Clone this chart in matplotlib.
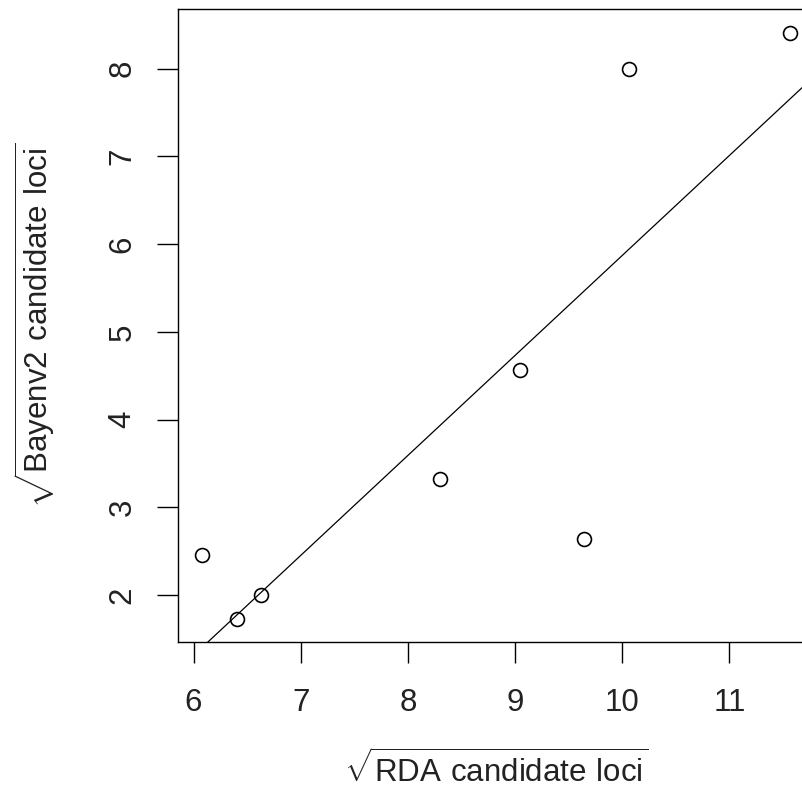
import matplotlib
matplotlib.use("Agg")
import matplotlib.pyplot as plt

# square-root transformed counts of candidate loci per group
rda_sqrt = [6.08, 6.41, 6.63, 8.30, 9.05, 9.64, 10.06, 11.57]
bayenv_sqrt = [2.45, 1.73, 2.00, 3.32, 4.57, 2.64, 8.00, 8.41]

# fitted line (intercept, slope)
fit_intercept = -5.53
fit_slope = 1.14

x_ticks = [6, 7, 8, 9, 10, 11]
y_ticks = [2, 3, 4, 5, 6, 7, 8]

plt.rcParams['font.family'] = ['Liberation Sans', 'DejaVu Sans']
plt.rcParams['mathtext.fontset'] = 'custom'
plt.rcParams['mathtext.rm'] = 'Liberation Sans'

fig = plt.figure(figsize=(8.02, 7.98), dpi=100)
# axes run past the right edge of the canvas, so the right spine is cut off
ax = fig.add_axes([178 / 802, 156 / 798, 636 / 802, 633 / 798])

ax.plot(rda_sqrt, bayenv_sqrt, linestyle='none', marker='o', markersize=10,
        markerfacecolor='none', markeredgecolor='black', markeredgewidth=1.2)
ax.axline((0, fit_intercept), slope=fit_slope, color='black', linewidth=0.9)

ax.set_xlim(5.855, 11.79)
ax.set_ylim(1.463, 8.681)
ax.set_xticks(x_ticks)
ax.set_yticks(y_ticks)

for side in ax.spines.values():
    side.set_linewidth(1.0)

ax.tick_params(axis='both', direction='out', length=15, width=1.0,
               labelsize=22.5, colors='black', labelcolor='#222222')
ax.tick_params(axis='x', pad=18)
ax.tick_params(axis='y', pad=14, labelrotation=90)
for lab in ax.get_yticklabels():
    lab.set_va('center')

ax.set_xlabel(r'$\sqrt{\mathrm{RDA\ candidate\ loci}}$', fontsize=22.5,
              color='#222222', labelpad=24)
ax.set_ylabel(r'$\sqrt{\mathrm{Bayenv2\ candidate\ loci}}$', fontsize=22.5,
              color='#222222', labelpad=36)

fig.savefig('out.png', dpi=100)
